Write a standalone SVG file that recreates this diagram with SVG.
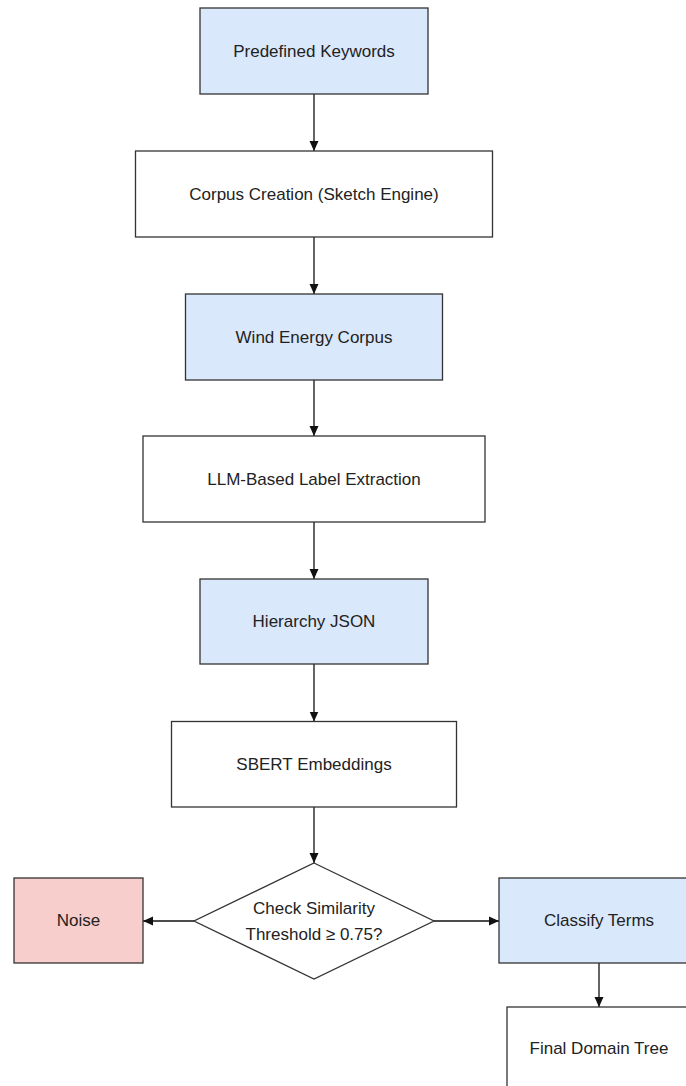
<svg xmlns="http://www.w3.org/2000/svg" width="686" height="1086" viewBox="0 0 686 1086">
<style>
.box{stroke:#333;stroke-width:1.3;fill:#fff}
.blue{fill:#dae8fc}
.red{fill:#f8cecc}
.lbl{font-family:"Liberation Sans",Arial,sans-serif;font-size:17px;fill:#222;text-anchor:middle;dominant-baseline:central}
.edge{stroke:#111;stroke-width:1.3;fill:none;marker-end:url(#arr)}
</style>
<defs>
<marker id="arr" viewBox="0 0 10 10" refX="10" refY="5" markerWidth="10" markerHeight="10" markerUnits="userSpaceOnUse" orient="auto">
<path d="M0,0.5 L10,5 L0,9.5 Z" fill="#111"/>
</marker>
</defs>
<rect width="686" height="1086" fill="#fff"/>
<g id="connectors">
<path class="edge" d="M314,94 V151"/>
<path class="edge" d="M314,237 V294"/>
<path class="edge" d="M314,380 V436"/>
<path class="edge" d="M314,522 V579"/>
<path class="edge" d="M314,664 V721.5"/>
<path class="edge" d="M314,807 V863"/>
<path class="edge" d="M194,921 H143"/>
<path class="edge" d="M434,921 H499"/>
<path class="edge" d="M599,963 V1007"/>
</g>
<g id="n1"><rect class="box blue" x="200" y="8" width="228" height="86"/><text class="lbl" x="314" y="51">Predefined Keywords</text></g>
<g id="n2"><rect class="box" x="135.5" y="151" width="357" height="86"/><text class="lbl" x="314" y="194">Corpus Creation (Sketch Engine)</text></g>
<g id="n3"><rect class="box blue" x="185.5" y="294" width="257" height="86"/><text class="lbl" x="314" y="337">Wind Energy Corpus</text></g>
<g id="n4"><rect class="box" x="143" y="436" width="342" height="86"/><text class="lbl" x="314" y="479">LLM-Based Label Extraction</text></g>
<g id="n5"><rect class="box blue" x="200" y="579" width="228" height="85"/><text class="lbl" x="314" y="621.5">Hierarchy JSON</text></g>
<g id="n6"><rect class="box" x="171.5" y="721.5" width="285" height="85.5"/><text class="lbl" x="314" y="764">SBERT Embeddings</text></g>
<g id="n7"><path class="box" d="M314,863 L434,921 L314,979 L194,921 Z"/><text class="lbl" x="314" y="908">Check Similarity</text><text class="lbl" x="314" y="934">Threshold ≥ 0.75?</text></g>
<g id="n8"><rect class="box red" x="14" y="878" width="129" height="85"/><text class="lbl" x="78.5" y="920.5">Noise</text></g>
<g id="n9"><rect class="box blue" x="499" y="878" width="200" height="85"/><text class="lbl" x="599" y="920.5">Classify Terms</text></g>
<g id="n10"><rect class="box" x="507" y="1007" width="184" height="86"/><text class="lbl" x="599" y="1048">Final Domain Tree</text></g>
</svg>
